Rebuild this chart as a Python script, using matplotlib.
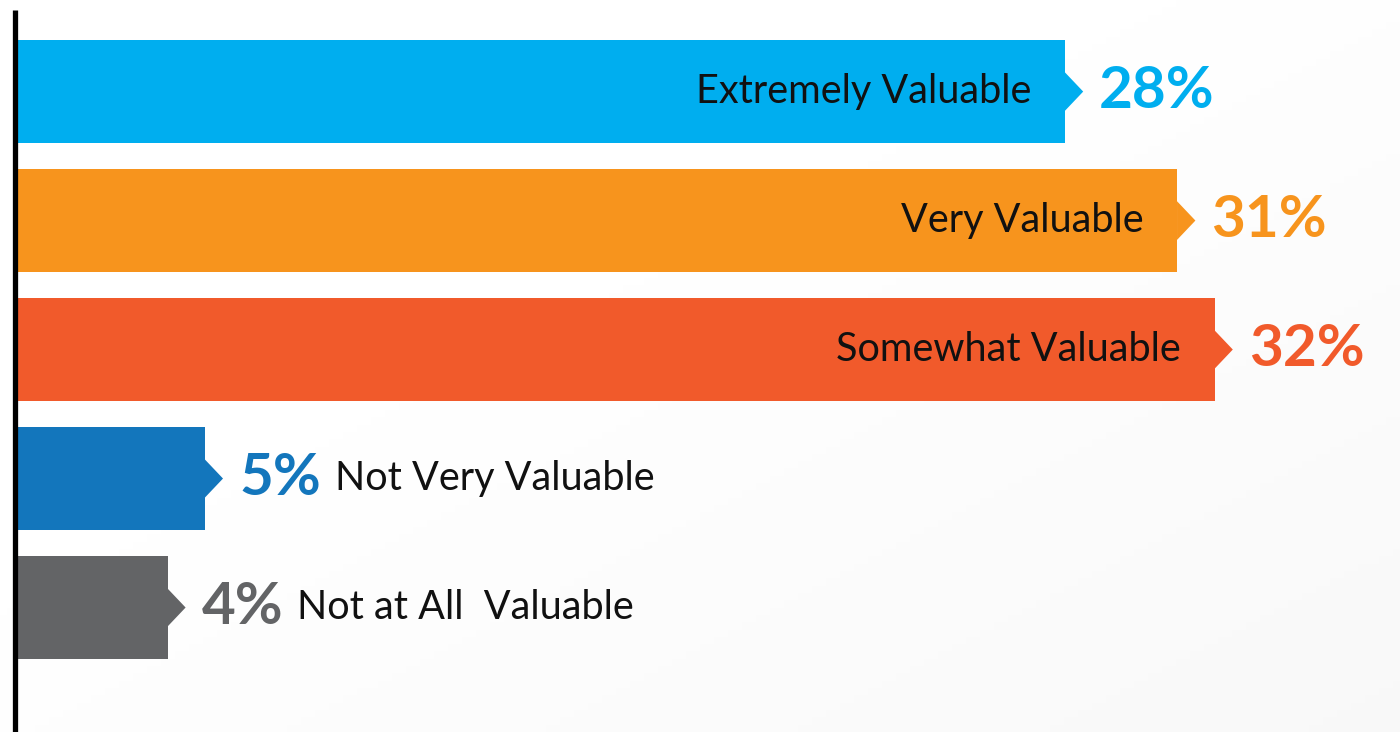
import numpy as np
import matplotlib.pyplot as plt
from matplotlib.patches import Polygon

categories = ["Extremely Valuable", "Very Valuable", "Somewhat Valuable",
              "Not Very Valuable", "Not at All  Valuable"]
values = [28, 31, 32, 5, 4]
colors = ["#00AEEF", "#F7941D", "#F15A2B", "#1376BC", "#636466"]

plt.rcParams['font.family'] = ['Lato', 'DejaVu Sans']

fig = plt.figure(figsize=(14, 7.32), dpi=100)
ax = fig.add_axes([0, 0, 1, 1])

px_per_pct = 37.4
x0 = -18 / px_per_pct
ax.set_xlim(x0, x0 + 1400 / px_per_pct)
ax.set_ylim(4.965, -0.71)

# soft grey gradient background towards bottom right
gx, gy = np.meshgrid(np.linspace(0, 1, 200), np.linspace(0, 1, 100))
grad = np.clip((gx * 0.6 + gy * 0.6 - 0.45), 0, 1)
ax.imshow(grad, extent=[x0, x0 + 1400 / px_per_pct, 4.965, -0.71],
          cmap='Greys', vmin=0, vmax=14, aspect='auto', zorder=0)

bar_h = 0.8
tip_h = 0.30
tip_d = 18 / px_per_pct
gap = 16 / px_per_pct

for i, (cat, v, c) in enumerate(zip(categories, values, colors)):
    ax.barh(i, v, height=bar_h, color=c, zorder=2)
    ax.add_patch(Polygon([(v - 0.01, i - tip_h / 2), (v + tip_d, i),
                          (v - 0.01, i + tip_h / 2)], closed=True,
                         color=c, lw=0, zorder=2))
    if v >= 20:
        ax.text(v - 34 / px_per_pct, i, cat, ha='right', va='center',
                fontsize=28.5, color='#111111', zorder=3)
        ax.text(v + tip_d + gap, i, f"{v}%", ha='left', va='center',
                fontsize=42, fontweight='bold', color=c, zorder=3)
    else:
        t = ax.text(v + tip_d + gap, i, f"{v}%", ha='left', va='center',
                    fontsize=42, fontweight='bold', color=c, zorder=3)
        fig.canvas.draw()
        bb = t.get_window_extent().transformed(ax.transData.inverted())
        ax.text(bb.x1 + 14 / px_per_pct, i, cat, ha='left', va='center',
                fontsize=28.5, color='#111111', zorder=3)

ax.plot([x0 + 15.5 / px_per_pct] * 2, [-0.71 + 10 / 129, 4.965],
        color='black', lw=3.8, solid_capstyle='butt', zorder=4)

ax.axis('off')
fig.savefig('out.png', dpi=100)
